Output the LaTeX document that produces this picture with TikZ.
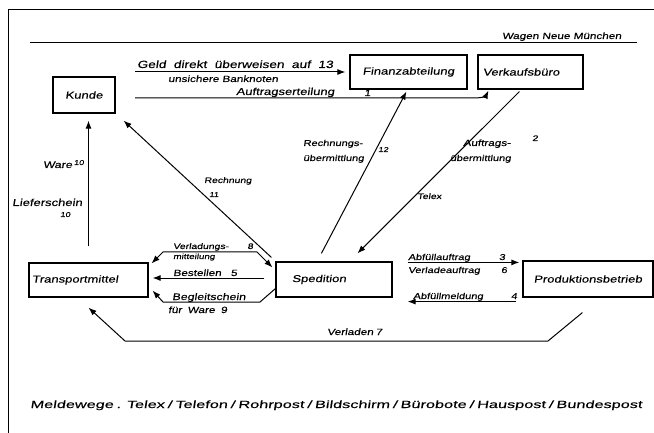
\documentclass[tikz,border=0pt]{standalone}
\usepackage{fontspec}
\setmainfont{Liberation Sans}
\newfontfamily\hand[FakeSlant=0.15,FakeStretch=1.3,FakeBold=0.25]{Liberation Sans}
\newfontfamily\handw[FakeSlant=0.15,FakeStretch=1.55,FakeBold=0.25]{Liberation Sans}
\usetikzlibrary{arrows.meta,calc}
\newcommand{\fitw}[2]{\makebox[#1][s]{#2}}
\tikzset{
  box/.style={draw, line width=1.2pt, minimum height=34pt, inner sep=0pt,
              font=\hand\fontsize{10}{11}\selectfont},
  lbl/.style={inner sep=0pt, anchor=base west, font=\hand\fontsize{9}{10}\selectfont},
  fs/.style={font=\hand\fontsize{#1}{#1}\selectfont},
  conn/.style={line width=1pt},
  arr/.style={-{Latex[length=8pt,width=6pt]}},
  arrboth/.style={{Latex[length=8pt,width=6pt]}-{Latex[length=8pt,width=6pt]}}
}
\begin{document}
\begin{tikzpicture}[x=1pt,y=-1pt]
\useasboundingbox (0,0) rectangle (654,433);
% frame and title line
\draw[line width=1pt] (8,433) -- (8,10) -- (654,10);
\draw[line width=1pt] (30,43) -- (637,43);
\node[lbl, fs=9] (title) at (502,39) {Wagen Neue München};

% boxes
\node[box, minimum width=62pt, minimum height=36pt] (kunde) at (84,95) {Kunde};
\node[box, minimum width=117pt] (fin) at (408.5,72) {Finanzabteilung};
\node[box, minimum width=105pt, text width=95pt, align=left] (verk) at (530.5,72) {Verkaufsbüro};
\node[box, minimum width=119pt, text width=113pt, align=left] (trans) at (88.5,280) {Transportmittel};
\node[box, minimum width=116pt, minimum height=35pt, text width=84pt, align=left] (sped) at (334,279.5) {Spedition};
\node[box, minimum width=130pt, minimum height=36pt] (prod) at (588,279) {Produktionsbetrieb};

% free ends
\coordinate (geld) at (135,72);
\coordinate (auft) at (135,98);

% connectors
\draw[conn, arr, shorten >=4pt] (geld) -- (fin.west);
\draw[conn, arr] (auft) -- (474,98) to[out=0,in=-115] ($(verk.south west)+(11,1)$);
\draw[conn, arr] ($(sped.north west)+(46,-8)$) -- ($(fin.south west)+(57,2)$);
\draw[conn, arr] ($(verk.south west)+(42,2)$) -- ($(sped.north west)+(82,-8)$);
\draw[conn, arr] ($(sped.north west)+(-4,-4)$) -- ($(kunde.south east)+(8,7)$);
\draw[conn, arr] ($(trans.north)+(0,-16)$) -- ($(kunde.south)+(4.5,7)$);
\draw[conn, arrboth] ($(trans.north east)+(3,1)$) -- (163,252) -- (257,252) -- ($(sped.north west)+(-3,6)$);
\draw[conn, arr] ($(sped.west)+(-11,-1.5)$) -- ($(trans.east)+(4,-2)$);
\draw[conn, arr] ($(sped.south west)+(0,-9)$) -- (260,302) -- (163,302) -- ($(trans.south east)+(4,-7)$);
\draw[conn, arr] ($(sped.north east)+(15,1)$) -- ($(prod.north west)+(-3,2)$);
\draw[conn, arr] ($(prod.south west)+(-6,4)$) -- ($(sped.south east)+(15,4)$);
\draw[conn, arr] ($(prod.south west)+(60,15)$) -- (548,341) -- (125,341) -- ($(trans.south)+(0,10)$);

% labels
\node[lbl, fs=10.5] (l1) at (137,68) {\fitw{196pt}{Geld direkt überweisen auf 13}};
\node[lbl, fs=9] (l2) at (168,82) {unsichere Banknoten};
\node[lbl, fs=10] (l3) at (236,95) {Auftragserteilung};
\node[lbl, fs=9] (l4) at (364,96) {1};
\node[lbl, fs=9.5] (l5) at (43,168) {Ware\,\raisebox{3pt}{\fontsize{7}{7}\selectfont 10}};
\node[lbl, fs=10] (l6) at (12,206) {Lieferschein};
\node[lbl, fs=7] (l7) at (60,217) {10};
\node[lbl, fs=8] (l8) at (204,183) {Rechnung};
\node[lbl, fs=7] (l9) at (209,197) {11};
\node[lbl, fs=8.5] (l10) at (303,146) {Rechnungs-};
\node[lbl, fs=8.5] (l11) at (303,161) {übermittlung};
\node[lbl, fs=7] (l12) at (378,152) {12};
\node[lbl, fs=9] (l13) at (463,146) {Auftrags-};
\node[lbl, fs=8] (l14) at (532,141) {2};
\node[lbl, fs=8.5] (l15) at (450,161) {übermittlung};
\node[lbl, fs=8] (l16) at (417,199) {Telex};
\node[lbl, fs=8] (l17) at (173,249) {\fitw{80pt}{Verladungs- 8}};
\node[lbl, fs=7.5] (l18) at (173,259) {mitteilung};
\node[lbl, fs=9] (l19) at (173,276) {\fitw{64pt}{Bestellen 5}};
\node[lbl, fs=9.5] (l20) at (172,300) {Begleitschein};
\node[lbl, fs=9] (l21) at (168,313) {\fitw{59pt}{für Ware 9}};
\node[lbl, fs=8.5] (l22) at (408,260) {\fitw{97pt}{Abfüllauftrag 3}};
\node[lbl, fs=8.5] (l23) at (408,273) {\fitw{99pt}{Verladeauftrag 6}};
\node[lbl, fs=8.5] (l24) at (413,299) {\fitw{104pt}{Abfüllmeldung 4}};
\node[lbl, fs=9] (l25) at (327,335) {\fitw{55pt}{Verladen 7}};
\node[lbl, font=\handw\fontsize{10.5}{11}\selectfont] (l26) at (30,408) {\fitw{598pt}{Meldewege . Telex / Telefon / Rohrpost / Bildschirm / Bürobote / Hauspost / Bundespost}};
\end{tikzpicture}
\end{document}
